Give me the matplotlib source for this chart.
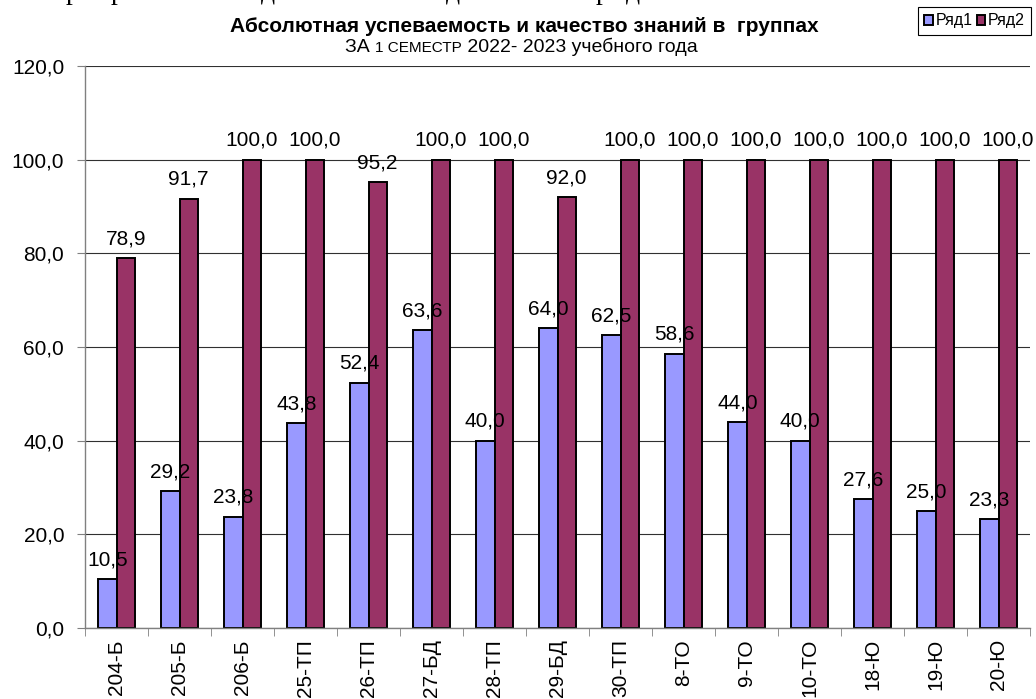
import matplotlib
matplotlib.use('Agg')
import matplotlib.pyplot as plt
import numpy as np

groups = ['204-Б', '205-Б', '206-Б', '25-ТП', '26-ТП', '27-БД', '28-ТП', '29-БД',
          '30-ТП', '8-ТО', '9-ТО', '10-ТО', '18-Ю', '19-Ю', '20-Ю']
row1 = [10.5, 29.2, 23.8, 43.8, 52.4, 63.6, 40.0, 64.0, 62.5, 58.6, 44.0, 40.0, 27.6, 25.0, 23.3]
row2 = [78.9, 91.7, 100.0, 100.0, 95.2, 100.0, 100.0, 92.0, 100.0, 100.0, 100.0, 100.0, 100.0, 100.0, 100.0]
series_names = ['Ряд1', 'Ряд2']
yticks = [0, 20, 40, 60, 80, 100, 120]

plt.rcParams['font.family'] = ['Liberation Sans', 'DejaVu Sans']

fig = plt.figure(figsize=(10.36, 6.99), dpi=100)
ax = fig.add_axes([85 / 1036, 1 - 628 / 699, 945 / 1036, 562 / 699])

x = np.arange(len(groups))
w = 0.29
b1 = ax.bar(x - w / 2, row1, w, color='#9999FF', edgecolor='black', linewidth=1.4, label=series_names[0])
b2 = ax.bar(x + w / 2, row2, w, color='#993366', edgecolor='black', linewidth=1.4, label=series_names[1])

def fmt(v):
    return f'{v:.1f}'.replace('.', ',')

# value labels over each bar
for bars, vals in ((b1, row1), (b2, row2)):
    for rect, v in zip(bars, vals):
        ax.annotate(fmt(v), (rect.get_x() + rect.get_width() / 2, v),
                    xytext=(0, 7), textcoords='offset points',
                    ha='center', va='bottom', fontsize=15)

ax.set_xlim(-0.5, len(groups) - 0.5)
ax.set_ylim(0, 120)
ax.set_yticks(yticks)
ax.set_yticklabels([fmt(v) for v in yticks], fontsize=15)
ax.yaxis.grid(True, color='#303030', linewidth=0.8)
ax.set_axisbelow(True)

ax.set_xticks(x)
ax.set_xticklabels(groups, rotation=90, fontsize=15)
ax.set_xticks(np.arange(len(groups) + 1) - 0.5, minor=True)
ax.tick_params(axis='x', which='major', length=0, pad=8)
ax.tick_params(axis='x', which='minor', length=6, color='#808080')
ax.tick_params(axis='y', length=6, color='#808080', pad=9)

for s in ('top', 'right'):
    ax.spines[s].set_visible(False)
for s in ('left', 'bottom'):
    ax.spines[s].set_color('#808080')
    ax.spines[s].set_linewidth(1.0)

# titles
fig.text(0.506, 1 - 27 / 699, 'Абсолютная успеваемость и качество знаний в  группах',
         ha='center', va='center', fontsize=15, fontweight='bold')
t1 = fig.text(345 / 1036, 1 - 47 / 699, 'ЗА ', ha='left', va='center', fontsize=14)
a2 = ax.annotate('1 СЕМЕСТР', xy=(1, 0), xycoords=t1, xytext=(0, 0), textcoords='offset points',
                 ha='left', va='bottom', fontsize=11)
ax.annotate(' 2022- 2023 учебного года', xy=(1, 0), xycoords=a2, ha='left', va='bottom', fontsize=14)

# clipped line of text above the chart
top_y = 1 + 1 / 699
for ch, px in (('р', 73), ('р', 118), ('д', 268), ('д', 453), ('р', 603), ('д', 633)):
    fig.text(px / 1036, top_y, ch, ha='center', va='baseline', fontsize=20,
             family='Liberation Serif')

leg = fig.legend(handles=[b1, b2], labels=series_names, loc='upper right',
                 bbox_to_anchor=(1031 / 1036, 1 - 7 / 699), ncol=2, fontsize=11.5,
                 handlelength=0.55, handleheight=0.55, columnspacing=0.25, handletextpad=0.15,
                 borderpad=0.4, borderaxespad=0, fancybox=False, edgecolor='black',
                 framealpha=1)
leg.get_frame().set_linewidth(0.8)

fig.savefig('out.png', dpi=100)
